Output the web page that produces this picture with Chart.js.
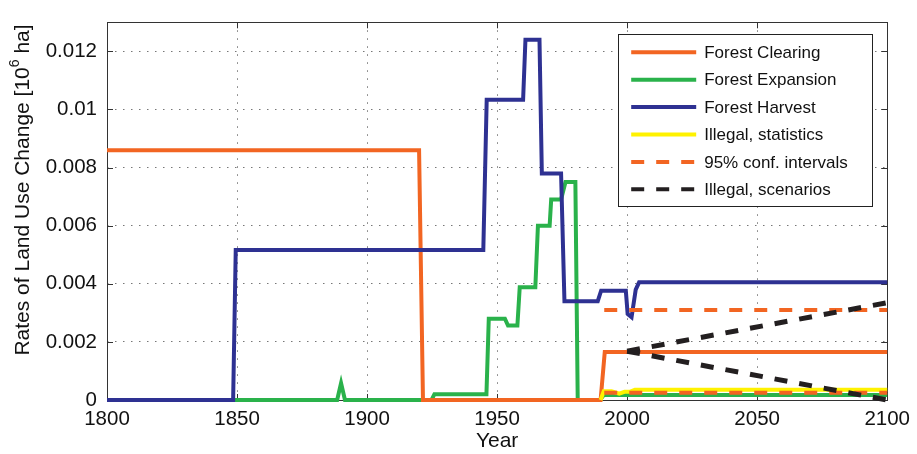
<!DOCTYPE html>
<html>
<head>
<meta charset="utf-8">
<script src="https://cdn.jsdelivr.net/npm/chart.js@4.4.1/dist/chart.umd.min.js"></script>
<style>
  html, body { margin: 0; padding: 0; background: #fff; }
  #wrap { width: 917px; height: 454px; position: relative; }
</style>
</head>
<body>
<div id="wrap"><canvas id="landUseChart"></canvas></div>
<script>
// Values (year, 10^6 ha)
const clearingYears = [1800, 1920, 1921.5, 1989.8, 1991.4, 2100];
const clearingVals  = [0.0086, 0.0086, 0, 0, 0.00165, 0.00165];

const expansionYears = [1800, 1888.5, 1890, 1891.5, 1924.8, 1925.9, 1945.9, 1946.8, 1953, 1954.2, 1957.8, 1958.7,
                        1964.7, 1965.7, 1970.2, 1970.8, 1974.6, 1976.3, 1980.1, 1981, 1989.6, 1991, 2100];
const expansionVals  = [0, 0, 0.00058, 0, 0, 0.0002, 0.0002, 0.0028, 0.0028, 0.00256, 0.00256, 0.00388,
                        0.00388, 0.006, 0.006, 0.0069, 0.0069, 0.0075, 0.0075, 0, 0, 0.00017, 0.00017];

const harvestYears = [1800, 1848.5, 1849.5, 1944.7, 1946, 1960, 1960.9, 1966.3, 1967.2, 1974.6, 1975.9,
                      1988.7, 1990, 1999.5, 2000.2, 2001.7, 2003.3, 2004.6, 2100];
const harvestVals  = [0, 0, 0.00516, 0.00516, 0.01033, 0.01033, 0.0124, 0.0124, 0.0078, 0.0078, 0.0034,
                      0.0034, 0.00376, 0.00376, 0.00296, 0.00285, 0.0038, 0.00405, 0.00405];

const illegalStatYears = [1989.8, 1991, 1994, 1997, 1999, 2001, 2003, 2100];
const illegalStatVals  = [0, 0.0003, 0.0003, 0.00022, 0.00028, 0.00028, 0.00035, 0.00035];

const confYears    = [1991.2, 2100];
const confUpper    = [0.0031, 0.0031];
const confLower    = [0.00025, 0.00025];

const scenarioYears = [2000, 2100];
const scenarioUpper = [0.00168, 0.00335];
const scenarioLower = [0.00168, 0.0];

const yearTicks = { min: 1800, max: 2100, step: 50 };
const rateTicks = { min: 0, max: 0.013, step: 0.002 };

const ORANGE = '#f26522';
const GREEN = '#2ab24b';
const BLUE = '#2e3192';
const YELLOW = '#fff200';
const BLACK = '#231f20';

function toPoints(xs, ys) {
    return xs.map((x, i) => ({ x: x, y: ys[i] }));
}

Chart.defaults.font.family = '"Liberation Sans", Arial, Helvetica, sans-serif';
Chart.defaults.color = '#111';

// box round the plot with matlab style inner ticks
const framePlugin = {
    id: 'frame',
    beforeDatasetsDraw(chart) {
        const { ctx, chartArea: a, scales } = chart;
        ctx.save();
        ctx.strokeStyle = '#333';
        ctx.lineWidth = 1;
        ctx.beginPath();
        const tl = 6;
        scales.x.ticks.forEach(t => {
            const px = Math.round(scales.x.getPixelForValue(t.value)) + 0.5;
            ctx.moveTo(px, a.bottom); ctx.lineTo(px, a.bottom - tl);
            ctx.moveTo(px, a.top); ctx.lineTo(px, a.top + tl);
        });
        scales.y.ticks.forEach(t => {
            const py = Math.round(scales.y.getPixelForValue(t.value)) + 0.5;
            ctx.moveTo(a.left, py); ctx.lineTo(a.left + tl, py);
            ctx.moveTo(a.right, py); ctx.lineTo(a.right - tl, py);
        });
        ctx.stroke();
        ctx.strokeRect(Math.round(a.left) + 0.5, Math.round(a.top) + 0.5,
                       Math.round(a.right - a.left), Math.round(a.bottom - a.top));
        ctx.restore();
    }
};

// y title with a real superscript
const yTitlePlugin = {
    id: 'yTitle',
    afterDraw(chart) {
        const ctx = chart.ctx;
        const fam = Chart.defaults.font.family;
        const parts = [
            { t: 'Rates of Land Use Change [10', f: '21px ' + fam, dy: 0 },
            { t: '6', f: '14px ' + fam, dy: -8 },
            { t: ' ha]', f: '21px ' + fam, dy: 0 }
        ];
        ctx.save();
        let total = 0;
        parts.forEach(p => { ctx.font = p.f; p.w = ctx.measureText(p.t).width; total += p.w; });
        ctx.translate(23, 190);
        ctx.rotate(-Math.PI / 2);
        ctx.fillStyle = '#111';
        ctx.textBaseline = 'middle';
        let x = -total / 2;
        parts.forEach(p => { ctx.font = p.f; ctx.fillText(p.t, x, p.dy); x += p.w; });
        ctx.restore();
    }
};

// legend drawn inside the axes, top right
const insideLegend = {
    id: 'insideLegend',
    afterDraw(chart) {
        const { ctx, chartArea: a } = chart;
        const items = chart.data.datasets.filter(d => !d.noLegend);
        const w = 254, rowH = 27.4;
        const h = 172;
        const left = a.right - 15 - w, top = a.top + 12;
        ctx.save();
        ctx.fillStyle = '#fff';
        ctx.fillRect(left, top, w, h);
        ctx.strokeStyle = '#222';
        ctx.lineWidth = 1;
        ctx.strokeRect(Math.round(left) + 0.5, Math.round(top) + 0.5, w, h);
        ctx.font = '17px ' + Chart.defaults.font.family;
        ctx.textBaseline = 'middle';
        items.forEach((d, i) => {
            const y = top + 18 + i * rowH;
            ctx.beginPath();
            ctx.strokeStyle = d.borderColor;
            ctx.lineWidth = 4;
            ctx.setLineDash(d.borderDash || []);
            ctx.moveTo(left + 13, y);
            ctx.lineTo(left + 78, y);
            ctx.stroke();
            ctx.setLineDash([]);
            ctx.fillStyle = '#111';
            ctx.fillText(d.label, left + 86, y + 1);
        });
        ctx.restore();
    }
};

const common = { pointRadius: 0, tension: 0, fill: false, clip: 5, borderJoinStyle: 'miter' };

const landUseChart = new Chart(document.getElementById('landUseChart'), {
    type: 'line',
    data: {
        datasets: [
            Object.assign({ label: 'Forest Clearing', data: toPoints(clearingYears, clearingVals),
                borderColor: ORANGE, borderWidth: 4, order: 5 }, common),
            Object.assign({ label: 'Forest Expansion', data: toPoints(expansionYears, expansionVals),
                borderColor: GREEN, borderWidth: 4, order: 6 }, common),
            Object.assign({ label: 'Forest Harvest', data: toPoints(harvestYears, harvestVals),
                borderColor: BLUE, borderWidth: 4, order: 4 }, common),
            Object.assign({ label: 'Illegal, statistics', data: toPoints(illegalStatYears, illegalStatVals),
                borderColor: YELLOW, borderWidth: 4, order: 3 }, common),
            Object.assign({ label: '95% conf. intervals', data: toPoints(confYears, confUpper),
                borderColor: ORANGE, borderWidth: 4, borderDash: [13, 12], order: 2 }, common),
            Object.assign({ label: '95% conf. intervals (lower)', noLegend: true, data: toPoints(confYears, confLower),
                borderColor: ORANGE, borderWidth: 4, borderDash: [13, 12], order: 2 }, common),
            Object.assign({ label: 'Illegal, scenarios', data: toPoints(scenarioYears, scenarioUpper),
                borderColor: BLACK, borderWidth: 5, borderDash: [13, 12], order: 1 }, common),
            Object.assign({ label: 'Illegal, scenarios (lower)', noLegend: true, data: toPoints(scenarioYears, scenarioLower),
                borderColor: BLACK, borderWidth: 5, borderDash: [13, 12], order: 1 }, common)
        ]
    },
    options: {
        responsive: true,
        maintainAspectRatio: false,
        animation: false,
        layout: { padding: { left: 0, right: 26, top: 10, bottom: 0 } },
        plugins: {
            legend: { display: false },
            tooltip: { enabled: false }
        },
        scales: {
            x: {
                type: 'linear',
                min: yearTicks.min,
                max: yearTicks.max,
                afterFit: s => { s.height = 54; },
                ticks: {
                    stepSize: yearTicks.step,
                    padding: 7,
                    font: { size: 20.5 },
                    color: '#111',
                    maxRotation: 0,
                    callback: v => String(v)
                },
                grid: { color: '#777', borderDash: [1.5, 6.5], drawTicks: false },
                border: { display: false, dash: [1.5, 6.5] },
                title: { display: true, text: 'Year', font: { size: 21 }, color: '#111', padding: { top: 0, bottom: 0 } }
            },
            y: {
                min: rateTicks.min,
                max: rateTicks.max,
                afterFit: s => { s.width = 107; },
                ticks: {
                    stepSize: rateTicks.step,
                    includeBounds: false,
                    padding: 10,
                    font: { size: 20.5 },
                    color: '#111',
                    callback: v => String(+v.toFixed(4))
                },
                grid: { color: '#777', drawTicks: false },
                border: { display: false, dash: [1.5, 6.5] }
            }
        }
    },
    plugins: [framePlugin, yTitlePlugin, insideLegend]
});
</script>
</body>
</html>
